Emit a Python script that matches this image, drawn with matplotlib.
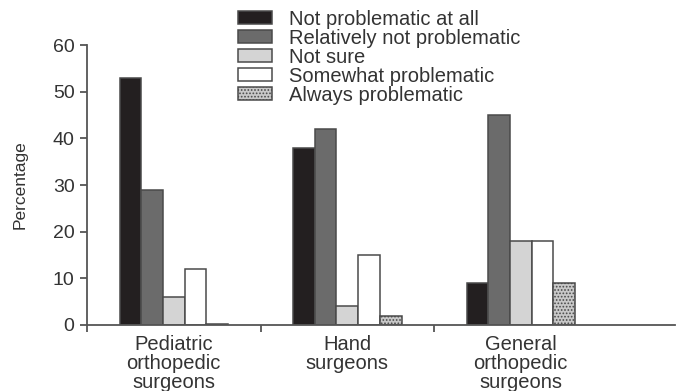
import numpy as np
import matplotlib.pyplot as plt
from matplotlib.patches import Patch

plt.rcParams['font.family'] = ['Liberation Sans', 'DejaVu Sans']
plt.rcParams['hatch.color'] = '#888888'
plt.rcParams['hatch.linewidth'] = 0.8

groups = ['Pediatric\northopedic\nsurgeons', 'Hand\nsurgeons', 'General\northopedic\nsurgeons']
labels = ['Not problematic at all', 'Relatively not problematic', 'Not sure',
          'Somewhat problematic', 'Always problematic']
not_problematic = [53, 38, 9]
rel_not_problematic = [29, 42, 45]
not_sure = [6, 4, 18]
somewhat = [12, 15, 18]
always = [0.3, 2, 9]
series = [not_problematic, rel_not_problematic, not_sure, somewhat, always]

colors = ['#231f20', '#6b6b6b', '#d4d4d4', '#ffffff', '#c8c8c8']
hatches = [None, None, None, None, '.....']
edge = '#4a4a4a'
txt = '#333333'

fig = plt.figure(figsize=(6.84, 3.91), dpi=100)
ax = fig.add_axes([0.1272, 0.1688, 0.86, 0.716])

x = np.arange(len(groups)) + 0.5
w = 0.125
for i, vals in enumerate(series):
    ax.bar(x + (i - 2) * w, vals, w, color=colors[i], edgecolor=edge,
           linewidth=1.1, hatch=hatches[i])

ax.set_xlim(0, 3.39)
ax.set_ylim(0, 60)
ax.set_yticks([0, 10, 20, 30, 40, 50, 60])
ax.set_xticks(x)
ax.set_xticklabels(groups, fontsize=14.5, color=txt, linespacing=1.0)
ax.set_xticks([0, 1, 2], minor=True)
ax.tick_params(axis='x', which='major', length=0, pad=7)
ax.tick_params(axis='x', which='minor', length=5, width=1.3, color='#555555')
ax.tick_params(axis='y', length=5, width=1.3, color='#555555', labelsize=14,
               labelcolor=txt, pad=4)
for s in ['top', 'right']:
    ax.spines[s].set_visible(False)
for s in ['left', 'bottom']:
    ax.spines[s].set_color('#555555')
    ax.spines[s].set_linewidth(1.3)
ax.set_ylabel('Percentage', fontsize=12.5, color=txt, labelpad=18)

handles = [Patch(facecolor=colors[i], edgecolor=edge, hatch=hatches[i], linewidth=1.1)
           for i in range(len(labels))]
fig.legend(handles, labels, loc='upper left', bbox_to_anchor=(0.322, 1.022),
           frameon=False, fontsize=14.5, handlelength=1.65, handleheight=0.6,
           labelspacing=0.0, handletextpad=0.85, labelcolor=txt)

fig.savefig('out.png', dpi=100)
